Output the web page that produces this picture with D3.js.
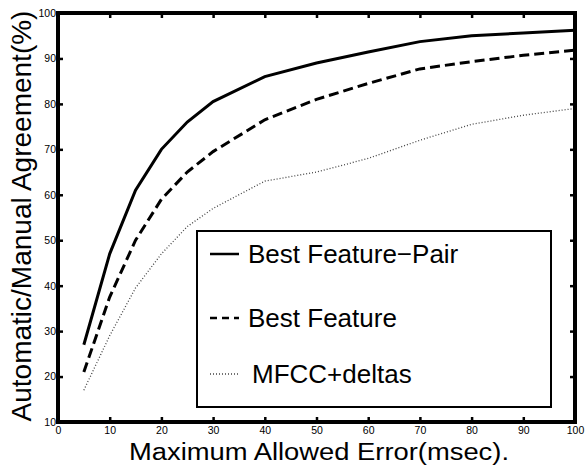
<!DOCTYPE html>
<html>
<head>
<meta charset="utf-8">
<script src="https://cdn.jsdelivr.net/npm/d3@7"></script>
<style>
  body { margin: 0; background: #fff; }
  svg { font-family: "Liberation Sans", Arial, sans-serif; }
</style>
</head>
<body>
<script>
// error thresholds (msec)
var errors = [5, 10, 15, 20, 25, 30, 40, 50, 60, 70, 80, 90, 100];

// agreement (%) per series
var bestPair    = [27, 47, 61, 70, 76, 80.5, 86, 89, 91.4, 93.7, 95, 95.6, 96.2];
var bestFeature = [21, 37.5, 50, 59, 65, 69.5, 76.5, 81, 84.5, 87.7, 89.3, 90.7, 91.8];
var mfcc        = [17, 29, 39.5, 47, 53, 57, 63, 65, 68, 72, 75.5, 77.5, 79];

var seriesNames = ["Best Feature\u2212Pair", "Best Feature", "MFCC+deltas"];

var xTicks = [0, 10, 20, 30, 40, 50, 60, 70, 80, 90, 100];
var yTicks = [10, 20, 30, 40, 50, 60, 70, 80, 90, 100];

var W = 586, H = 468;
// plot box (note: "top" is reserved on window, so use pTop etc)
var pLeft = 58, pRight = 575, pTop = 13, pBottom = 422;

var svg = d3.select("body").append("svg")
  .attr("width", W)
  .attr("height", H);

var x = d3.scaleLinear().domain([0, 100]).range([pLeft, pRight]);
var y = d3.scaleLinear().domain([10, 100]).range([pBottom, pTop]);

var styles = [
  { width: 3, dash: null, color: "#000" },
  { width: 3, dash: "10,5", color: "#000" },
  { width: 1.3, dash: "1,2", color: "#444" }
];

var allSeries = [bestPair, bestFeature, mfcc];

var line = d3.line()
  .x(function (d, i) { return x(errors[i]); })
  .y(function (d) { return y(d); });

svg.selectAll("path.series")
  .data(allSeries)
  .enter().append("path")
  .attr("class", "series")
  .attr("d", line)
  .attr("fill", "none")
  .attr("stroke", function (d, i) { return styles[i].color; })
  .attr("stroke-width", function (d, i) { return styles[i].width; })
  .attr("stroke-dasharray", function (d, i) { return styles[i].dash; });

// legend box
var lg = svg.append("g");
lg.append("rect")
  .attr("x", 197).attr("y", 231)
  .attr("width", 354).attr("height", 176)
  .attr("fill", "#fff")
  .attr("stroke", "#000")
  .attr("stroke-width", 2);

var legendY = [254, 318, 374];
var legendDash = [null, "7,5", "1,2"];
lg.selectAll("line.key")
  .data(seriesNames)
  .enter().append("line")
  .attr("class", "key")
  .attr("x1", 210).attr("x2", 239)
  .attr("y1", function (d, i) { return legendY[i]; })
  .attr("y2", function (d, i) { return legendY[i]; })
  .attr("stroke", function (d, i) { return styles[i].color; })
  .attr("stroke-width", function (d, i) { return i == 2 ? 1.3 : 2.5; })
  .attr("stroke-dasharray", function (d, i) { return legendDash[i]; });

lg.selectAll("text.key")
  .data(seriesNames)
  .enter().append("text")
  .attr("class", "key")
  .attr("x", function (d, i) { return i == 2 ? 252 : 248; })
  .attr("y", function (d, i) { return legendY[i]; })
  .attr("dy", "0.36em")
  .attr("font-size", 26)
  .text(function (d) { return d; });

// axes box with inward ticks (matlab style)
var axisG = svg.append("g");

axisG.append("g")
  .attr("transform", "translate(0," + pBottom + ")")
  .call(d3.axisBottom(x).tickValues(xTicks).tickSizeInner(-5).tickSizeOuter(0).tickPadding(5));
axisG.append("g")
  .attr("transform", "translate(0," + pTop + ")")
  .call(d3.axisTop(x).tickValues(xTicks).tickSizeInner(-5).tickSizeOuter(0).tickFormat(""));
axisG.append("g")
  .attr("transform", "translate(" + pLeft + ",0)")
  .call(d3.axisLeft(y).tickValues(yTicks).tickSizeInner(-5).tickSizeOuter(0).tickPadding(2));
axisG.append("g")
  .attr("transform", "translate(" + pRight + ",0)")
  .call(d3.axisRight(y).tickValues(yTicks).tickSizeInner(-5).tickSizeOuter(0).tickFormat(""));

axisG.selectAll(".domain").remove();
axisG.selectAll(".tick line").attr("stroke", "#000").attr("stroke-width", 2.5);
axisG.selectAll(".tick text")
  .attr("font-family", "Liberation Sans, Arial, sans-serif")
  .attr("font-size", 10.5)
  .attr("fill", "#000");

svg.append("rect")
  .attr("x", pLeft).attr("y", pTop)
  .attr("width", pRight - pLeft).attr("height", pBottom - pTop)
  .attr("fill", "none")
  .attr("stroke", "#000")
  .attr("stroke-width", 4);

// axis titles
svg.append("text")
  .attr("x", 319)
  .attr("y", 460)
  .attr("text-anchor", "middle")
  .attr("font-size", 23)
  .attr("textLength", 380)
  .attr("lengthAdjust", "spacingAndGlyphs")
  .text("Maximum Allowed Error(msec).");

svg.append("text")
  .attr("transform", "translate(31," + 216 + ") rotate(-90)")
  .attr("text-anchor", "middle")
  .attr("font-size", 28)
  .text("Automatic/Manual Agreement(%)");
</script>
</body>
</html>
